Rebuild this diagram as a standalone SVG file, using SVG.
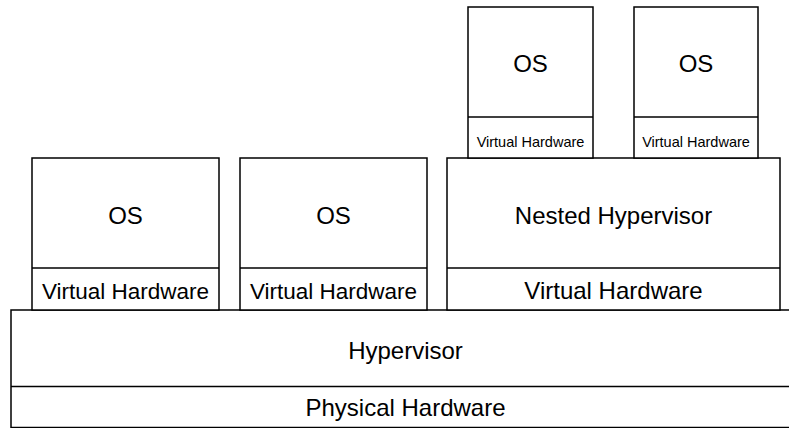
<svg xmlns="http://www.w3.org/2000/svg" width="789" height="428" viewBox="0 0 789 428">
<style>
rect{fill:#fff;stroke:#000;stroke-width:1.5}
line{stroke:#000;stroke-width:1.5}
text{font-family:"Liberation Sans",Arial,Helvetica,sans-serif;fill:#000;text-anchor:middle}
.l{font-size:24px}
.m{font-size:22.5px}
.s{font-size:14.5px}
</style>
<rect width="789" height="428" style="stroke:none"/>
<g id="host">
<rect x="11" y="310" width="790" height="117.5"/>
<line x1="11" y1="386.5" x2="801" y2="386.5"/>
<text class="l" x="405.5" y="359">Hypervisor</text>
<text class="l" x="405.5" y="416">Physical Hardware</text>
</g>
<g id="vm1">
<rect x="32" y="158" width="187" height="152"/>
<line x1="32" y1="268" x2="219" y2="268"/>
<text class="l" x="125.5" y="224">OS</text>
<text class="m" x="125.5" y="299">Virtual Hardware</text>
</g>
<g id="vm2">
<rect x="240" y="158" width="187" height="152"/>
<line x1="240" y1="268" x2="427" y2="268"/>
<text class="l" x="333.5" y="224">OS</text>
<text class="m" x="333.5" y="299">Virtual Hardware</text>
</g>
<g id="vm3">
<rect x="447" y="158" width="333" height="152"/>
<line x1="447" y1="268" x2="780" y2="268"/>
<text class="l" x="613.5" y="224">Nested Hypervisor</text>
<text class="l" x="613.5" y="298.5">Virtual Hardware</text>
</g>
<g id="nested1">
<rect x="468" y="7" width="125" height="151"/>
<line x1="468" y1="117" x2="593" y2="117"/>
<text class="l" x="530.5" y="72">OS</text>
<text class="s" x="530.5" y="147">Virtual Hardware</text>
</g>
<g id="nested2">
<rect x="634" y="7" width="124" height="151"/>
<line x1="634" y1="117" x2="758" y2="117"/>
<text class="l" x="696" y="72">OS</text>
<text class="s" x="696" y="147">Virtual Hardware</text>
</g>
<g id="connectors"/>
</svg>
